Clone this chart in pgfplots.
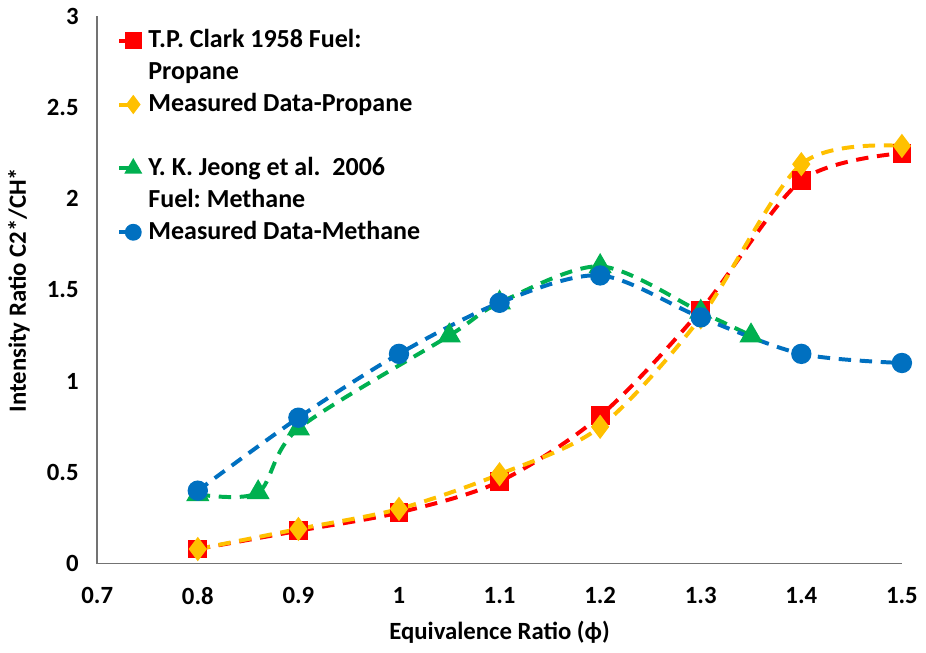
\documentclass[border=0pt]{standalone}
\usepackage{pgfplots}
\pgfplotsset{compat=1.18}
\usepackage{fontspec}
\setmainfont{Carlito}
\definecolor{cred}{HTML}{FF0000}
\definecolor{cyel}{HTML}{FFC000}
\definecolor{cgrn}{HTML}{00B050}
\definecolor{cblu}{HTML}{0070C0}
\frenchspacing

\begin{document}
\begin{tikzpicture}
\begin{axis}[
  scale only axis, width=325pt, height=221pt,
  xmin=0.7, xmax=1.5, ymin=0, ymax=3,
  xtick={0.7,0.8,0.9,1,1.1,1.2,1.3,1.4,1.5},
  ytick={0,0.5,1,1.5,2,2.5,3},
  axis x line=bottom, axis y line=left,
  axis line style={-, black!55, line width=0.6pt},
  major tick length=0pt,
  clip=false,
  /pgf/number format/assume math mode=true,
  tick label style={font=\bfseries\fontsize{10}{12}\selectfont},
  xticklabel style={yshift=-6pt},
  yticklabel style={xshift=-4pt},
  label style={font=\bfseries\fontsize{10}{12}\selectfont},
  xlabel={Equivalence Ratio (ϕ)},
  ylabel={Intensity Ratio C2*/CH*},
  every axis plot/.append style={smooth, line width=1.6pt,
    dash pattern=on 5pt off 3.5pt},
  legend style={draw=none, fill=none, at={(0.015,0.998)}, anchor=north west,
    font=\bfseries\fontsize{10.5}{11.3}\selectfont,
    row sep=-0.6pt, column sep=1.5pt,
    cells={anchor=base west, inner ysep=0pt, text height=8pt, text depth=2.5pt}},
  legend image code/.code={%
    \draw[solid, mark indices={2}, mark size=2.6pt, yshift=0.6ex]
      plot coordinates {(0cm,0cm) (0.2cm,0cm)};},
]
\addplot[cred, mark=square*, mark size=3pt, mark options={solid}] coordinates {
  (0.8,0.08) (0.9,0.18) (1.0,0.28) (1.1,0.45) (1.2,0.81) (1.3,1.39) (1.4,2.10) (1.5,2.25)};
\addlegendentry{T.P. Clark 1958 Fuel:}
\addlegendimage{empty legend}
\addlegendentry{Propane}
\addplot[cyel, mark=diamond*, mark size=3.6pt, mark options={solid}] coordinates {
  (0.8,0.08) (0.9,0.19) (1.0,0.30) (1.1,0.49) (1.2,0.75) (1.3,1.35) (1.4,2.19) (1.5,2.29)};
\addlegendentry{Measured Data-Propane}
\addlegendimage{empty legend}
\addlegendentry{}
\addplot[cgrn, mark=triangle*, mark size=3.8pt, mark options={solid}] coordinates {
  (0.8,0.38) (0.86,0.39) (0.9,0.74) (1.05,1.25) (1.1,1.43) (1.2,1.63) (1.3,1.38) (1.35,1.25)};
\addlegendentry{Y. K. Jeong et al.\ \ 2006}
\addlegendimage{empty legend}
\addlegendentry{Fuel: Methane}
\addplot[cblu, mark=*, mark size=3.3pt, mark options={solid}] coordinates {
  (0.8,0.40) (0.9,0.80) (1.0,1.15) (1.1,1.43) (1.2,1.58) (1.3,1.35) (1.4,1.15) (1.5,1.10)};
\addlegendentry{Measured Data-Methane}
\end{axis}
\end{tikzpicture}
\end{document}
